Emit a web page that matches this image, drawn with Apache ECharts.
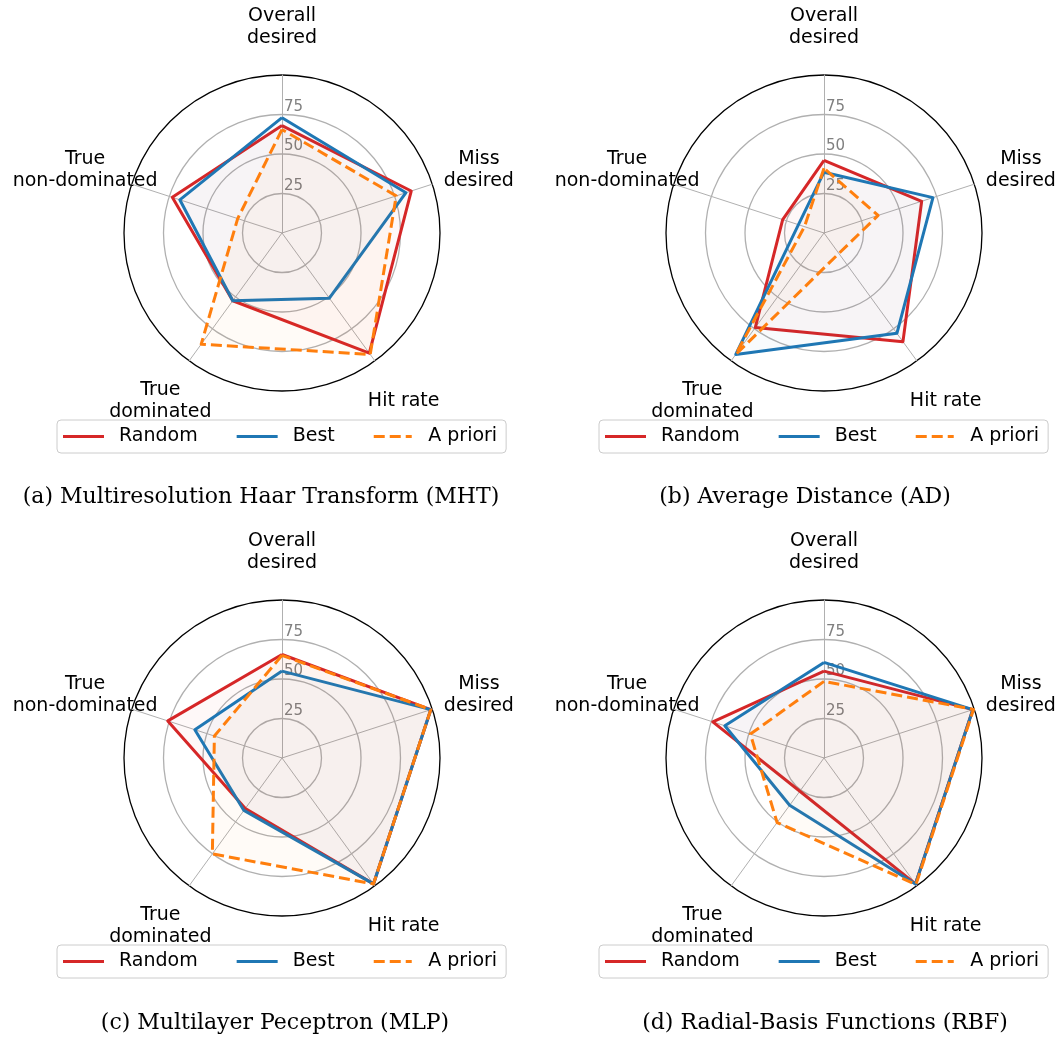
<!DOCTYPE html>
<html><head><meta charset="utf-8">
<script src="https://cdn.jsdelivr.net/npm/echarts@6/dist/echarts.min.js"></script>
<style>html,body{margin:0;padding:0;background:#fff}#c{width:1063px;height:1039px}</style>
</head><body><div id="c"></div>
<script>
// Categories in clockwise order starting at the top
const categories = ['Overall\ndesired', 'Miss\ndesired', 'Hit rate', 'True\ndominated', 'True\nnon-dominated'];
const methods = ['Random', 'Best', 'A priori'];
const radialTicks = [25, 50, 75];
const titles = ['(a) Multiresolution Haar Transform (MHT)', '(b) Average Distance (AD)',
                '(c) Multilayer Peceptron (MLP)', '(d) Radial-Basis Functions (RBF)'];

// values per chart, same order as categories
const mhtRandom  = [68, 86, 94, 53, 73];
const mhtBest    = [73, 82.5, 51, 53, 68];
const mhtApriori = [65.5, 76, 95, 87, 29.5];

const adRandom  = [46, 65, 85, 74, 27.5];
const adBest    = [38.5, 72.5, 78.5, 95, 17];
const adApriori = [41, 36, 16, 95, 13];

const mlpRandom  = [65.5, 99, 98.5, 39.5, 76];
const mlpBest    = [55, 99, 98.5, 41, 58];
const mlpApriori = [65, 99, 98.5, 75, 45];

const rbfRandom  = [55, 99, 98.5, 26, 74];
const rbfBest    = [60.5, 99, 98.5, 37, 66];
const rbfApriori = [48.5, 99.5, 99, 50.5, 49];

const charts = [
  [mhtRandom, mhtBest, mhtApriori],
  [adRandom, adBest, adApriori],
  [mlpRandom, mlpBest, mlpApriori],
  [rbfRandom, rbfBest, rbfApriori]
];

// ---- layout / style (not data) ----
const colors = ['#d62728', '#1f77b4', '#ff7f0e'];
const lineTypes = ['solid', 'solid', [11, 5]];
const centers = [[282, 233], [824, 233], [282, 758], [824, 758]];
const R = 158;
const legendPos = [[57, 420], [599, 420], [57, 945], [599, 945]];
const captionPos = [[261, 497], [805, 497], [275, 1023], [825, 1023]];
const FONT = 'DejaVu Sans';
// ECharts places indicators counter-clockwise; map clockwise order to it
const ecOrder = [0, 4, 3, 2, 1];
const clockAngles = [90, 18, -54, -126, 162];

const solidIcon = 'path://M0,0H41V3H0Z';
const dashIcon = 'path://M0,0H11V3H0Z M16,0H27V3H16Z M32,0H38V3H32Z';

const radar = [], series = [], legend = [], graphic = [];
charts.forEach((vals, ci) => {
  radar.push({
    center: centers[ci], radius: R, startAngle: 90, shape: 'circle', splitNumber: 4,
    indicator: ecOrder.map((k, j) => {
      const ind = { name: categories[k], min: 0, max: 100 };
      if (j === 0) {
        ind.axisLabel = {
          show: true, color: '#808080', fontSize: 15, fontFamily: FONT,
          align: 'left', verticalAlign: 'bottom', margin: -2,
          formatter: v => (radialTicks.indexOf(v) >= 0 ? String(v) : '')
        };
      }
      return ind;
    }),
    axisName: { show: false },
    axisLine: { lineStyle: { color: '#b0b0b0', width: 1 } },
    axisTick: { show: false },
    axisLabel: { show: false },
    splitLine: { lineStyle: { color: ['#b0b0b0', '#b0b0b0', '#b0b0b0', '#b0b0b0', '#000000'], width: 1.3 } },
    splitArea: { show: false }
  });
  series.push({
    type: 'radar', radarIndex: ci, symbol: 'none', silent: true,
    data: vals.map((v, m) => ({
      name: methods[m],
      value: ecOrder.map(k => v[k]),
      symbol: 'none',
      itemStyle: { color: colors[m] },
      lineStyle: { color: colors[m], width: 3, type: lineTypes[m], join: 'round' },
      areaStyle: { color: colors[m], opacity: 0.033 }
    }))
  });
  legend.push({
    left: legendPos[ci][0], top: legendPos[ci][1], orient: 'horizontal',
    selectedMode: false,
    data: methods.map((m, i) => ({ name: m, icon: i === 2 ? dashIcon : solidIcon })),
    itemWidth: 41, itemHeight: 3, itemGap: 39,
    padding: [7, 9, 7, 6],
    borderColor: '#cccccc', borderWidth: 1, borderRadius: 4, backgroundColor: '#ffffff',
    itemStyle: { borderWidth: 0 },
    lineStyle: { width: 0 },
    textStyle: { fontSize: 19, fontFamily: FONT, color: '#000', padding: [0, 0, 0, 10] }
  });
  const [cx, cy] = centers[ci];
  categories.forEach((name, k) => {
    const a = clockAngles[k] * Math.PI / 180;
    const rr = R + 49;
    graphic.push({
      type: 'text', x: cx + rr * Math.cos(a), y: cy - rr * Math.sin(a) + 1, silent: true,
      style: { text: name, fill: '#000', font: '19px ' + FONT, lineHeight: 22,
               textAlign: 'center', textVerticalAlign: 'middle', align: 'center', verticalAlign: 'middle' }
    });
  });
  graphic.push({
    type: 'text', x: captionPos[ci][0], y: captionPos[ci][1], silent: true,
    style: { text: titles[ci], fill: '#000', font: '22px "DejaVu Serif"',
             textAlign: 'center', textVerticalAlign: 'middle', align: 'center', verticalAlign: 'middle' }
  });
});

const chart = echarts.init(document.getElementById('c'), null, { renderer: 'canvas' });
chart.setOption({
  animation: false,
  backgroundColor: '#ffffff',
  radar, series, legend, graphic
});
</script>
</body></html>
